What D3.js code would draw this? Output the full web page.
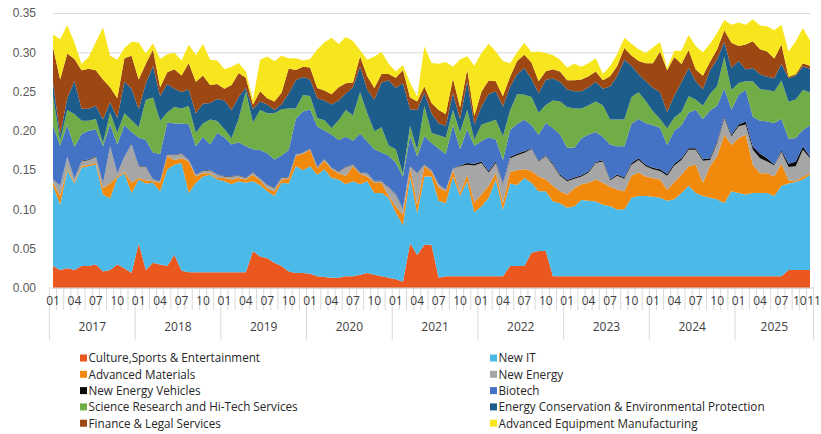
<!DOCTYPE html>
<html>
<head>
<meta charset="utf-8">
<script src="https://cdn.jsdelivr.net/npm/d3@7"></script>
<style>
  body { margin: 0; background: #fff; }
  svg { font-family: "Open Sans", "Noto Sans", sans-serif; }
</style>
</head>
<body>
<script>
// categories: monthly, Jan 2017 .. Nov 2025
const years = ['2017', '2018', '2019', '2020', '2021', '2022', '2023', '2024', '2025'];
const monthCodes = ['01', '02', '03', '04', '05', '06', '07', '08', '09', '10', '11', '12'];
const lastMonth = '11';
const labelMonths = ['01', '04', '07', '10'];
const yTicks = [0, 0.05, 0.10, 0.15, 0.20, 0.25, 0.30, 0.35];

const categories = years.flatMap(yr =>
  monthCodes.filter(m => yr !== '2025' || m <= lastMonth).map(m => `${yr}-${m}`));

// series values, bottom of the stack first; 12 per line
const culture = [
  .028,.023,.025,.023,.028,.028,.030,.021,.023,.030,.025,.019,
  .057,.023,.032,.030,.028,.042,.022,.020,.020,.020,.020,.020,
  .020,.020,.020,.020,.047,.040,.038,.032,.028,.021,.019,.019,
  .018,.015,.014,.013,.013,.015,.015,.017,.019,.017,.015,.013,
  .011,.008,.057,.042,.055,.055,.013,.015,.015,.015,.015,.015,
  .015,.015,.015,.015,.028,.028,.028,.045,.047,.047,.015,.015,
  .015,.015,.015,.015,.015,.015,.015,.015,.015,.015,.015,.015,
  .015,.015,.015,.015,.015,.015,.015,.015,.015,.015,.015,.015,
  .015,.015,.015,.015,.015,.015,.015,.023,.023,.023,.023];
const newIT = [
  .102,.083,.125,.110,.125,.127,.127,.098,.091,.110,.121,.102,
  .081,.110,.102,.093,.123,.115,.137,.101,.114,.122,.124,.118,
  .116,.112,.116,.114,.089,.091,.085,.085,.106,.112,.136,.131,
  .137,.129,.137,.127,.125,.117,.121,.115,.117,.104,.106,.102,
  .085,.072,.085,.053,.087,.087,.098,.093,.127,.102,.121,.081,
  .089,.100,.123,.085,.105,.103,.112,.089,.076,.076,.095,.093,
  .087,.089,.097,.096,.095,.091,.089,.085,.085,.100,.102,.102,
  .101,.100,.096,.098,.106,.115,.106,.102,.100,.098,.093,.108,
  .106,.104,.106,.106,.106,.102,.115,.110,.112,.115,.121];
const advMaterials = [
  .004,.011,.002,.002,.002,.002,.002,.008,.019,.002,.002,.013,
  .002,.004,.002,.011,.017,.006,.006,.040,.008,.004,.002,.002,
  .004,.006,.004,.004,.008,.006,.004,.006,.004,.006,.013,.021,
  .021,.008,.011,.011,.008,.011,.019,.013,.006,.013,.013,.002,
  .008,.013,.011,.011,.013,.006,.017,.015,.008,.004,.008,.013,
  .015,.015,.008,.008,.015,.019,.011,.015,.019,.015,.020,.015,
  .017,.023,.020,.023,.028,.028,.025,.025,.023,.028,.030,.025,
  .024,.023,.014,.022,.023,.025,.036,.017,.040,.055,.087,.059,
  .070,.076,.036,.025,.025,.025,.028,.004,.001,.004,.002];
const newEnergy = [
  .004,.013,.015,.004,.006,.006,.008,.006,.047,.004,.019,.049,
  .015,.017,.002,.002,.002,.006,.006,.002,.002,.003,.004,.004,
  .002,.004,.003,.002,.003,.002,.004,.004,.002,.002,.002,.001,
  .001,.002,.002,.002,.002,.011,.002,.002,.004,.002,.002,.011,
  .015,.008,.002,.040,.002,.002,.004,.002,.002,.034,.013,.047,
  .040,.017,.013,.025,.017,.019,.021,.028,.019,.030,.027,.020,
  .017,.012,.010,.013,.021,.027,.008,.018,.016,.014,.016,.013,
  .011,.011,.018,.021,.019,.021,.019,.028,.008,.017,.021,.011,
  .015,.013,.019,.019,.015,.014,.015,.017,.019,.034,.019];
const newEnergyVehicles = [
  .0005,.0005,.0005,.0005,.001,.001,.001,.0005,.0005,.0005,.0005,.0005,
  .0005,.0005,.0005,.0005,.0005,.0005,.0005,.0005,.0005,.0005,.0005,.0005,
  .0005,.0005,.0005,.0005,.0005,.0005,.0005,.0005,.0005,.0005,.0005,.0005,
  .0005,.0005,.0005,.0005,.0005,.0005,.0005,.0005,.0005,.0005,.0005,.0005,
  .0005,.0005,.0005,.0005,.0005,.0005,.0005,.0005,.0005,.001,.002,.002,
  .002,.002,.002,.001,.002,.002,.002,.001,.001,.001,.0015,.0015,
  .0015,.0015,.0015,.0015,.0015,.0015,.0015,.0015,.0015,.002,.002,.002,
  .002,.002,.002,.002,.002,.002,.002,.002,.002,.002,.002,.002,
  .002,.004,.004,.006,.004,.001,.002,.004,.006,.004,.002];
const biotech = [
  .068,.051,.040,.040,.034,.036,.034,.047,.028,.036,.040,.015,
  .036,.034,.034,.034,.040,.040,.038,.045,.036,.043,.032,.053,
  .049,.040,.042,.040,.029,.036,.040,.036,.028,.034,.045,.052,
  .050,.051,.036,.042,.040,.038,.030,.049,.040,.040,.036,.040,
  .040,.040,.038,.021,.036,.034,.045,.045,.055,.021,.043,.023,
  .026,.043,.028,.029,.034,.038,.040,.029,.033,.041,.045,.051,
  .041,.038,.047,.047,.038,.030,.044,.036,.040,.050,.050,.053,
  .054,.053,.037,.042,.042,.045,.049,.051,.061,.045,.036,.032,
  .038,.040,.038,.042,.047,.053,.040,.032,.030,.021,.040];
const scienceServices = [
  .038,.006,.019,.042,.017,.013,.013,.004,.015,.015,.015,.015,
  .013,.051,.070,.042,.013,.021,.019,.023,.017,.017,.032,.015,
  .011,.008,.030,.070,.034,.051,.051,.059,.059,.053,.013,.021,
  .017,.011,.013,.008,.025,.034,.032,.053,.036,.023,.032,.013,
  .017,.004,.013,.008,.038,.013,.017,.021,.019,.021,.025,.008,
  .021,.019,.025,.030,.025,.038,.032,.036,.028,.023,.035,.042,
  .052,.050,.038,.037,.039,.040,.032,.034,.034,.034,.034,.028,
  .018,.011,.021,.017,.017,.021,.013,.017,.021,.025,.040,.025,
  .015,.011,.045,.040,.040,.040,.049,.047,.049,.051,.042];
const energyConservation = [
  .017,.008,.015,.042,.015,.015,.017,.030,.013,.019,.040,.040,
  .023,.021,.040,.032,.036,.023,.021,.021,.025,.025,.021,.028,
  .036,.036,.028,.004,.017,.011,.011,.004,.006,.019,.036,.023,
  .021,.025,.025,.030,.025,.021,.036,.032,.030,.040,.057,.083,
  .078,.115,.021,.051,.017,.025,.015,.015,.021,.017,.036,.019,
  .023,.036,.036,.038,.030,.025,.034,.023,.025,.032,.028,.025,
  .022,.022,.022,.023,.025,.021,.042,.055,.076,.040,.023,.025,
  .030,.034,.021,.028,.038,.036,.023,.021,.030,.034,.019,.028,
  .028,.015,.017,.019,.017,.017,.021,.030,.030,.030,.030];
const financeLegal = [
  .045,.070,.057,.028,.049,.051,.045,.051,.019,.025,.030,.042,
  .038,.025,.021,.011,.015,.025,.021,.034,.040,.036,.023,.019,
  .015,.032,.030,.013,.006,.013,.008,.011,.015,.032,.013,.013,
  .015,.013,.013,.013,.017,.013,.006,.013,.017,.015,.011,.008,
  .013,.017,.015,.011,.008,.013,.017,.015,.019,.015,.015,.011,
  .019,.017,.013,.013,.013,.017,.017,.021,.015,.011,.012,.013,
  .012,.014,.015,.014,.013,.011,.013,.013,.015,.013,.017,.023,
  .031,.052,.053,.049,.023,.023,.015,.017,.011,.013,.015,.032,
  .019,.032,.034,.032,.032,.025,.025,.002,.002,.004,.004];
const advEquipment = [
  .016,.051,.036,.021,.008,.015,.036,.066,.040,.049,.013,.018,
  .047,.013,.008,.036,.023,.021,.019,.023,.034,.040,.032,.030,
  .025,.023,.013,.008,.006,.040,.053,.051,.047,.013,.015,.008,
  .011,.049,.061,.072,.055,.059,.053,.008,.021,.040,.028,.013,
  .008,.006,.019,.006,.051,.051,.059,.066,.015,.061,.017,.064,
  .049,.047,.038,.045,.017,.011,.015,.013,.038,.023,.018,.015,
  .016,.021,.016,.017,.017,.008,.013,.015,.013,.015,.015,.013,
  .020,.012,.003,.008,.017,.019,.030,.030,.023,.021,.013,.023,
  .030,.025,.028,.030,.032,.036,.025,.032,.042,.045,.032];

const series = [
  {name: 'Culture,Sports & Entertainment', values: culture},
  {name: 'New IT', values: newIT},
  {name: 'Advanced Materials', values: advMaterials},
  {name: 'New Energy', values: newEnergy},
  {name: 'New Energy Vehicles', values: newEnergyVehicles},
  {name: 'Biotech', values: biotech},
  {name: 'Science Research and Hi-Tech Services', values: scienceServices},
  {name: 'Energy Conservation & Environmental Protection', values: energyConservation},
  {name: 'Finance & Legal Services', values: financeLegal},
  {name: 'Advanced Equipment Manufacturing', values: advEquipment}
];

const colors = {
  'Culture,Sports & Entertainment': '#ea5820',
  'New IT': '#4cbae9',
  'Advanced Materials': '#f18a0c',
  'New Energy': '#a6a6a6',
  'New Energy Vehicles': '#0a0a0a',
  'Biotech': '#4472c4',
  'Science Research and Hi-Tech Services': '#70ad47',
  'Energy Conservation & Environmental Protection': '#1c5d8c',
  'Finance & Legal Services': '#9d4713',
  'Advanced Equipment Manufacturing': '#f7e61e'
};

// legend layout: two columns, read left to right
const legendOrder = [
  'Culture,Sports & Entertainment', 'New IT',
  'Advanced Materials', 'New Energy',
  'New Energy Vehicles', 'Biotech',
  'Science Research and Hi-Tech Services', 'Energy Conservation & Environmental Protection',
  'Finance & Legal Services', 'Advanced Equipment Manufacturing'
];

const margin = {left: 53, right: 11, top: 13, bottom: 146};
const width = 821 - margin.left - margin.right;
const height = 434 - margin.top - margin.bottom;

const svg = d3.select('body').append('svg')
  .attr('width', width + margin.left + margin.right)
  .attr('height', height + margin.top + margin.bottom);

const chartGroup = svg.append('g')
  .attr('transform', `translate(${margin.left},${margin.top})`);

const keys = series.map(s => s.name);
const table = categories.map((c, i) => {
  const row = {cat: c};
  series.forEach(s => { row[s.name] = s.values[i]; });
  return row;
});

const x = d3.scalePoint().domain(categories).range([0, width]);
const y = d3.scaleLinear().domain([0, 0.35]).range([height, 0]);
const step = x.step();

// gridlines
chartGroup.append('g')
  .attr('class', 'grid')
  .call(d3.axisLeft(y).tickValues(yTicks).tickSize(-width).tickFormat(''))
  .call(g => g.select('.domain').remove())
  .call(g => g.selectAll('line').attr('stroke', '#d9d9d9'));

// y axis labels
chartGroup.append('g')
  .attr('class', 'y axis')
  .attr('transform', 'translate(-8,0)')
  .call(d3.axisLeft(y).tickValues(yTicks).tickSize(0).tickPadding(9).tickFormat(d3.format('.2f')))
  .call(g => g.select('.domain').remove())
  .call(g => g.selectAll('text').attr('fill', '#595959').style('font-size', '12px'));

// stacked areas
const stacked = d3.stack().keys(keys)(table);
const area = d3.area()
  .x(d => x(d.data.cat))
  .y0(d => y(d[0]))
  .y1(d => y(d[1]));

chartGroup.selectAll('.layer')
  .data(stacked)
  .enter().append('path')
  .attr('class', 'layer')
  .attr('d', area)
  .attr('fill', d => colors[d.key]);

// x axis: month ticks, month labels, year groups
const xAxis = chartGroup.append('g')
  .attr('class', 'x axis')
  .attr('transform', `translate(0,${height})`);

xAxis.append('line')
  .attr('x1', -step / 2).attr('x2', width + step / 2)
  .attr('stroke', '#d9d9d9');

xAxis.selectAll('.mtick')
  .data(categories)
  .enter().append('line')
  .attr('class', 'mtick')
  .attr('x1', d => x(d) + step / 2).attr('x2', d => x(d) + step / 2)
  .attr('y1', 0)
  .attr('y2', (d, i) => (d.slice(5) === '12' || i === categories.length - 1) ? 52 : 22)
  .attr('stroke', '#d9d9d9');

xAxis.append('line')
  .attr('x1', -step / 2).attr('x2', -step / 2)
  .attr('y1', 0).attr('y2', 52)
  .attr('stroke', '#d9d9d9');

const lastIdx = categories.length - 1;
const monthLabels = categories.filter((c, i) => labelMonths.includes(c.slice(5)) || i === lastIdx);

// the last two labels sit one month apart; push them apart a little
const nudge = d => {
  const i = categories.indexOf(d);
  if (i === lastIdx) return 4;
  if (i === lastIdx - 1) return -3;
  return 0;
};

xAxis.selectAll('.mlabel')
  .data(monthLabels)
  .enter().append('text')
  .attr('class', 'mlabel')
  .attr('x', d => x(d) + nudge(d))
  .attr('y', 17)
  .attr('text-anchor', 'middle')
  .attr('fill', '#404040')
  .style('font-size', '12px')
  .text(d => d.slice(5));

xAxis.selectAll('.ylabel')
  .data(years)
  .enter().append('text')
  .attr('class', 'ylabel')
  .attr('x', yr => {
    const cats = categories.filter(c => c.startsWith(yr));
    return (x(cats[0]) + x(cats[cats.length - 1])) / 2;
  })
  .attr('y', 43)
  .attr('text-anchor', 'middle')
  .attr('fill', '#404040')
  .style('font-size', '12px')
  .text(yr => yr);

// legend
const legend = svg.selectAll('.legend')
  .data(legendOrder)
  .enter().append('g')
  .attr('class', 'legend')
  .attr('transform', (d, i) => `translate(${i % 2 === 0 ? 80 : 490},${358 + Math.floor(i / 2) * 16.3})`);

legend.append('rect')
  .attr('x', 0)
  .attr('y', -3.5)
  .attr('width', 7)
  .attr('height', 7)
  .attr('fill', d => colors[d]);

legend.append('text')
  .attr('x', 8.5)
  .attr('y', 4.3)
  .attr('fill', '#262626')
  .style('font-size', '11.7px')
  .text(d => d);
</script>
</body>
</html>
